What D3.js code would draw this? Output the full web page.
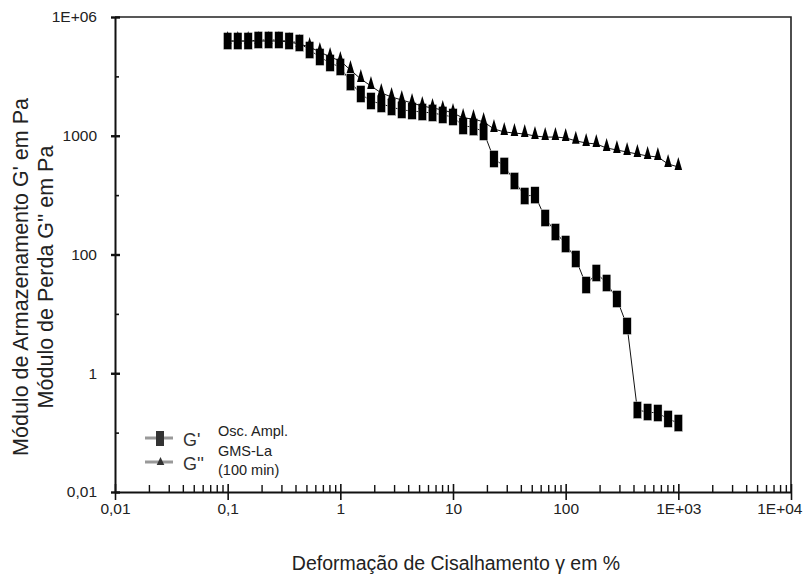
<!DOCTYPE html>
<html>
<head>
<meta charset="utf-8">
<script src="https://cdn.jsdelivr.net/npm/d3@7"></script>
<style>
  html, body { margin: 0; padding: 0; background: #fff; }
  svg { display: block; font-family: "Liberation Sans", Arial, sans-serif; }
</style>
</head>
<body>
<svg id="chart" width="804" height="574"></svg>
<script>
// strain (%) — 11 points per decade
const strain = [0.1, 0.123, 0.152, 0.187, 0.231, 0.285, 0.351, 0.433, 0.534, 0.658, 0.811,
  1, 1.23, 1.52, 1.87, 2.31, 2.85, 3.51, 4.33, 5.34, 6.58, 8.11,
  10, 12.3, 15.2, 18.7, 23.1, 28.5, 35.1, 43.3, 53.4, 65.8, 81.1,
  100, 123, 152, 187, 231, 285, 351, 433, 534, 658, 811, 1000];

// G' (storage modulus), squares
const gStorage = [3.94e5, 3.94e5, 3.94e5, 4.1e5, 4.1e5, 4.1e5, 3.94e5, 3.65e5, 2.78e5, 2.12e5,
  1.68e5, 1.44e5, 8.0e4, 5.05e4, 3.85e4, 3.43e4, 3.05e4, 2.72e4, 2.61e4, 2.51e4,
  2.42e4, 2.24e4, 2.07e4, 1.46e4, 1.40e4, 1.16e4, 4060, 3100, 1730, 966,
  1000, 412, 239, 150, 84, 30.6, 48.8, 33.1, 17.8, 6.25,
  0.24, 0.222, 0.214, 0.17, 0.145];

// G'' (loss modulus), triangles
const gLoss = [3.94e5, 3.94e5, 3.94e5, 3.94e5, 3.94e5, 3.94e5, 3.79e5, 3.51e5, 3.12e5, 2.58e5,
  2.12e5, 1.82e5, 1.28e5, 9.03e4, 6.89e4, 5.25e4, 4.5e4, 4.0e4, 3.56e4, 3.17e4,
  2.93e4, 2.72e4, 2.42e4, 1.99e4, 1.92e4, 1.71e4, 1.30e4, 1.16e4, 1.11e4, 1.07e4,
  9900, 9500, 9500, 9200, 8200, 7550, 7260, 6220, 5750, 5320,
  4930, 4560, 4390, 3340, 2980];

const xTicks = [0.01, 0.1, 1, 10, 100, 1000, 10000];
const xTickLabels = ["0,01", "0,1", "1", "10", "100", "1E+03", "1E+04"];
const yTicks = [0.01, 1, 100, 1e4, 1e6];
const yTickLabels = ["0,01", "1", "100", "1000", "1E+06"];
const yMinorTicks = [0.1, 10, 1000, 1e5];

const plot = { left: 115, right: 791, top: 17, bottom: 492 };

const svg = d3.select("#chart");

const x = d3.scaleLog().domain([0.01, 1e4]).range([plot.left, plot.right]);
const y = d3.scaleLog().domain([0.01, 1e6]).range([plot.bottom, plot.top]);

// frame (top and right)
svg.append("path")
  .attr("d", `M${plot.left},${plot.top}H${plot.right}V${plot.bottom}`)
  .attr("fill", "none")
  .attr("stroke", "#222")
  .attr("stroke-width", 1.6);

// x minor ticks
const xMinor = [];
[0.01, 0.1, 1, 10, 100, 1000].forEach(d => {
  [2, 3, 4, 5, 6, 7, 8, 9].forEach(k => xMinor.push(d * k));
});
svg.append("g")
  .attr("transform", `translate(0,${plot.bottom})`)
  .call(d3.axisTop(x).tickValues(xMinor).tickSize(7).tickFormat(""))
  .call(g => g.select(".domain").remove())
  .call(g => g.selectAll("line").attr("stroke", "#111").attr("stroke-width", 1.4));

// x major axis
svg.append("g")
  .attr("transform", `translate(0,${plot.bottom})`)
  .call(d3.axisBottom(x).tickValues(xTicks).tickSizeOuter(0).tickSizeInner(8)
    .tickFormat((d, i) => xTickLabels[i]))
  .call(g => g.select(".domain").attr("stroke", "#111").attr("stroke-width", 2))
  .call(g => g.selectAll("line").attr("y1", -8).attr("stroke", "#111").attr("stroke-width", 1.6))
  .call(g => g.selectAll("text").attr("y", 22).attr("dy", 0)
    .attr("font-size", 15.5).attr("fill", "#222").attr("font-family", "Liberation Sans, Arial, sans-serif"))
  .call(g => g.selectAll(".tick:last-of-type text").attr("text-anchor", "end").attr("x", 11));

// y minor ticks
svg.append("g")
  .attr("transform", `translate(${plot.left},0)`)
  .call(d3.axisRight(y).tickValues(yMinorTicks).tickSize(4).tickFormat(""))
  .call(g => g.select(".domain").remove())
  .call(g => g.selectAll("line").attr("stroke", "#111").attr("stroke-width", 1.6));

// y major axis
svg.append("g")
  .attr("transform", `translate(${plot.left},0)`)
  .call(d3.axisLeft(y).tickValues(yTicks).tickSizeOuter(0).tickSizeInner(4)
    .tickFormat((d, i) => yTickLabels[i]))
  .call(g => g.select(".domain").attr("stroke", "#111").attr("stroke-width", 2))
  .call(g => g.selectAll("line").attr("x1", 5).attr("stroke", "#111").attr("stroke-width", 2.4))
  .call(g => g.selectAll("text").attr("x", -18)
    .attr("font-size", 15.5).attr("fill", "#222").attr("font-family", "Liberation Sans, Arial, sans-serif"));

// axis titles
svg.append("text")
  .attr("x", 456).attr("y", 570)
  .attr("text-anchor", "middle")
  .attr("font-size", 19.5).attr("fill", "#222")
  .text("Deformação de Cisalhamento γ em %");

const yTitle = svg.append("text")
  .attr("transform", "translate(0,277) rotate(-90)")
  .attr("text-anchor", "middle")
  .attr("font-size", 21.5).attr("fill", "#222");
yTitle.append("tspan").attr("x", 0).attr("y", 28).text("Módulo de Armazenamento G' em Pa");
yTitle.append("tspan").attr("x", 0).attr("y", 53).text("Módulo de Perda G'' em Pa");

// series
const line = d3.line().x(d => x(d[0])).y(d => y(d[1]));
const sPts = strain.map((s, i) => [s, gStorage[i]]);
const lPts = strain.map((s, i) => [s, gLoss[i]]);

const tri = "M0,-10L3.8,3L-3.8,3Z";

svg.append("path").datum(sPts)
  .attr("d", line).attr("fill", "none").attr("stroke", "#111").attr("stroke-width", 1);
svg.append("g").selectAll("rect").data(sPts).join("rect")
  .attr("x", d => x(d[0]) - 4.2).attr("y", d => y(d[1]) - 8.5)
  .attr("width", 8.4).attr("height", 17)
  .attr("fill", "#000").attr("stroke", "#fff").attr("stroke-width", 0.4);

svg.append("path").datum(lPts)
  .attr("d", line).attr("fill", "none").attr("stroke", "#111").attr("stroke-width", 1);
svg.append("g").selectAll("path").data(lPts).join("path")
  .attr("transform", d => `translate(${x(d[0])},${y(d[1])})`)
  .attr("d", tri)
  .attr("fill", "#000");

// legend
const lg = svg.append("g");
lg.append("line").attr("x1", 145).attr("x2", 173).attr("y1", 438).attr("y2", 438)
  .attr("stroke", "#999").attr("stroke-width", 3);
lg.append("rect").attr("x", 156).attr("y", 431).attr("width", 8).attr("height", 15).attr("fill", "#333");
lg.append("line").attr("x1", 145).attr("x2", 173).attr("y1", 462).attr("y2", 462)
  .attr("stroke", "#999").attr("stroke-width", 3);
lg.append("path").attr("transform", "translate(160.5,462)").attr("d", "M0,-5L3.8,3L-3.8,3Z").attr("fill", "#333");
lg.append("text").attr("x", 183).attr("y", 446).attr("font-size", 18).attr("fill", "#333").text("G'");
lg.append("text").attr("x", 183).attr("y", 470).attr("font-size", 18).attr("fill", "#333").text("G''");
lg.append("text").attr("x", 218).attr("y", 436).attr("font-size", 14.5).attr("fill", "#222").text("Osc. Ampl.");
lg.append("text").attr("x", 218).attr("y", 456).attr("font-size", 14.5).attr("fill", "#222").text("GMS-La");
lg.append("text").attr("x", 218).attr("y", 475).attr("font-size", 14.5).attr("fill", "#222").text("(100 min)");
</script>
</body>
</html>
